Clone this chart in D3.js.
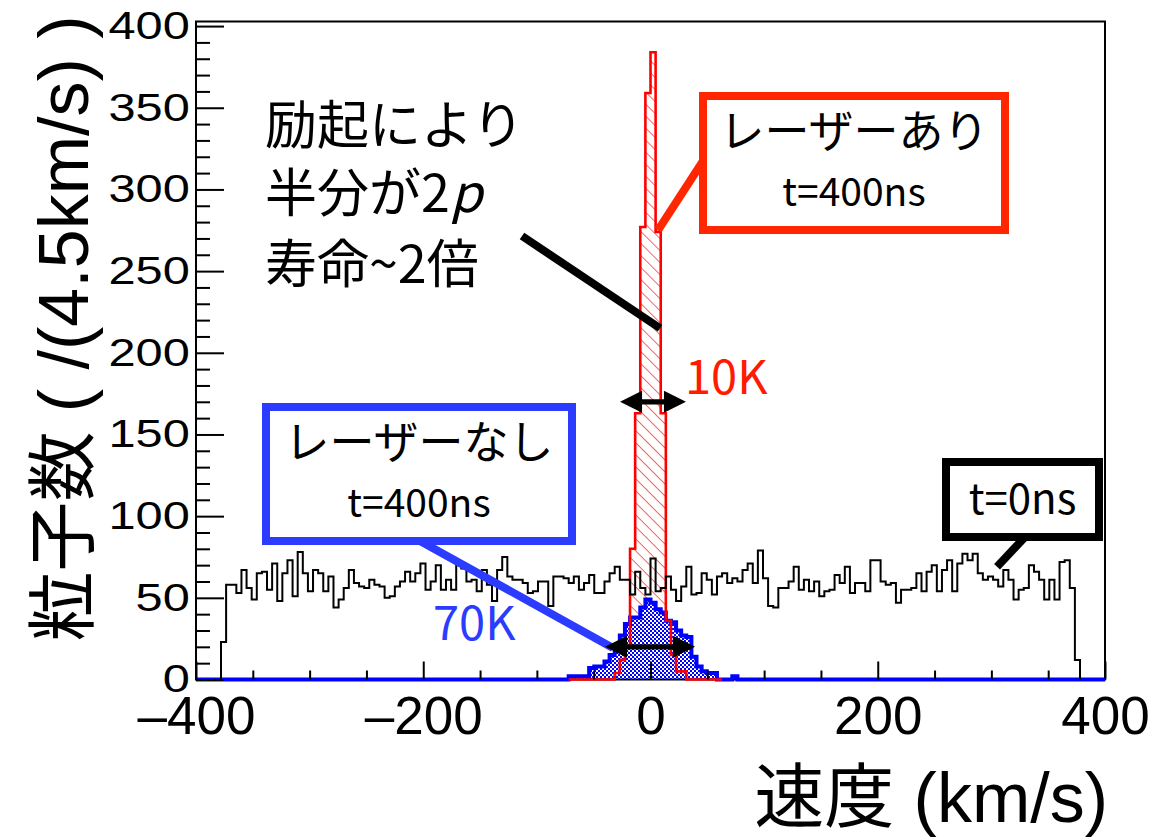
<!DOCTYPE html>
<html>
<head>
<meta charset="utf-8">
<script src="https://cdn.jsdelivr.net/npm/d3@7"></script>
<style>
  body { margin: 0; background: #fff; }
</style>
</head>
<body>
<script>
const width = 1153;
const height = 838;
const margin = { top: 21.5, right: 48, bottom: 158.5, left: 196 };

const binWidth = 4.5; // km/s

// t=0ns (black), first bin edge at -378 km/s
const t0Start = -378;
const t0Counts = [
  23, 58, 58, 53, 67, 56, 49, 65, 66, 55,
  71, 48, 65, 73, 51, 78, 65, 54, 67, 65,
  54, 63, 44, 49, 56, 67, 59, 57, 56, 61,
  58, 57, 50, 51, 57, 60, 66, 60, 65, 71,
  55, 60, 70, 55, 61, 55, 70, 68, 60, 61,
  54, 67, 58, 48, 67, 75, 63, 61, 61, 59,
  53, 54, 60, 60, 45, 63, 63, 62, 59, 63,
  55, 59, 64, 53, 53, 60, 65, 69, 61, 61,
  52, 66, 56, 52, 74, 54, 56, 63, 55, 48,
  57, 69, 52, 53, 65, 61, 52, 63, 65, 59,
  62, 60, 67, 71, 59, 79, 62, 45, 44, 56,
  56, 60, 69, 55, 61, 54, 60, 51, 54, 55,
  64, 59, 69, 53, 59, 59, 54, 73, 73, 60,
  58, 59, 47, 55, 55, 56, 65, 54, 66, 70,
  54, 67, 73, 54, 71, 77, 73, 77, 65, 61,
  63, 61, 57, 67, 61, 49, 55, 56, 70, 66,
  61, 49, 61, 49, 72, 73, 56, 12
];

// レーザーあり t=400ns (red, hatched)
const laserOnStart = -72;
const laserOnCounts = [
  0, 0, 0, 0, 0, 0, 0, 0, 0, 4,
  12, 20, 80, 163, 277, 359, 384, 274, 163, 36,
  15, 5, 5, 0, 0, 0, 0, 0, 0, 0
];

// レーザーなし t=400ns (blue, checkered)
const laserOffStart = -72;
const laserOffCounts = [
  2, 2, 2, 2, 7, 8, 8, 11, 15, 21,
  27, 34, 38, 38, 44, 49, 47, 43, 41, 36,
  35, 30, 27, 26, 14, 8, 5, 4, 4, 0,
  0, 0, 2
];

const xDomain = [-400, 400];
const yDomain = [0, 402.8];
const xTickLabels = [-400, -200, 0, 200, 400];
const yTickLabels = [0, 50, 100, 150, 200, 250, 300, 350, 400];

const x = d3.scaleLinear().domain(xDomain).range([margin.left, width - margin.right]);
const y = d3.scaleLinear().domain(yDomain).range([height - margin.bottom, margin.top]);

const svg = d3.select("body").append("svg")
  .attr("width", width)
  .attr("height", height)
  .style("font-family", "'Liberation Sans', Arial, sans-serif");

const defs = svg.append("defs");

// red hatch (\\\)
defs.append("pattern")
  .attr("id", "hatch")
  .attr("patternUnits", "userSpaceOnUse")
  .attr("width", 8.5).attr("height", 8.5)
  .attr("patternTransform", "rotate(-45)")
  .append("line")
  .attr("x1", 0).attr("y1", 0).attr("x2", 0).attr("y2", 8.5)
  .attr("stroke", "#ff0000").attr("stroke-width", 1.2);

// blue checker
const checker = defs.append("pattern")
  .attr("id", "checker")
  .attr("patternUnits", "userSpaceOnUse")
  .attr("width", 4).attr("height", 4);
checker.append("rect").attr("x", 0).attr("y", 0).attr("width", 2).attr("height", 2).attr("fill", "#0000ff");
checker.append("rect").attr("x", 2).attr("y", 2).attr("width", 2).attr("height", 2).attr("fill", "#0000ff");

function stepPoints(start, counts) {
  const pts = [[start, 0]];
  counts.forEach((c, i) => {
    pts.push([start + i * binWidth, c], [start + (i + 1) * binWidth, c]);
  });
  pts.push([start + counts.length * binWidth, 0]);
  return pts;
}

const line = d3.line().x(d => x(d[0])).y(d => y(d[1]));

const redPts = stepPoints(laserOnStart, laserOnCounts);
const bluePts = stepPoints(laserOffStart, laserOffCounts);
const blackPts = stepPoints(t0Start, t0Counts);

// frame
svg.append("rect")
  .attr("x", x(xDomain[0])).attr("y", y(yDomain[1]))
  .attr("width", x(xDomain[1]) - x(xDomain[0]))
  .attr("height", y(yDomain[0]) - y(yDomain[1]))
  .attr("fill", "#fff")
  .attr("stroke", "#000").attr("stroke-width", 2);

// fills
svg.append("path").attr("d", line(redPts)).attr("fill", "url(#hatch)");
svg.append("path").attr("d", line(bluePts)).attr("fill", "url(#checker)");

// outlines
svg.append("path")
  .attr("d", line([[xDomain[0], 0], ...bluePts, [xDomain[1], 0]]))
  .attr("fill", "none").attr("stroke", "#0000ff").attr("stroke-width", 4);
svg.append("path")
  .attr("d", line(redPts))
  .attr("fill", "none").attr("stroke", "#ff0000").attr("stroke-width", 2.6);
svg.append("path")
  .attr("d", line(blackPts))
  .attr("fill", "none").attr("stroke", "#000").attr("stroke-width", 2);

// x axis (ticks inward)
const xAxisY = y(0);
svg.append("g")
  .attr("transform", `translate(0,${xAxisY})`)
  .call(d3.axisBottom(x).tickValues(d3.range(-350, 400, 50).filter(v => v % 200 !== 0)).tickSize(-9).tickFormat(""))
  .call(g => g.select(".domain").remove())
  .call(g => g.selectAll("line").attr("stroke-width", 2));
svg.append("g")
  .attr("transform", `translate(0,${xAxisY})`)
  .call(d3.axisBottom(x).tickValues(xTickLabels).tickSize(-18).tickPadding(17)
    .tickFormat(d => d < 0 ? "\u2013" + Math.abs(d) : String(d)))
  .call(g => g.select(".domain").remove())
  .call(g => g.selectAll("line").attr("stroke-width", 2))
  .call(g => g.selectAll("text").attr("font-size", 53).attr("font-family", "'Liberation Sans', Arial, sans-serif").attr("fill", "#000"));

// y axis (ticks inward)
svg.append("g")
  .attr("transform", `translate(${x(xDomain[0])},0)`)
  .call(d3.axisLeft(y).tickValues(d3.range(10, 401, 10).filter(v => v % 50 !== 0)).tickSize(-14).tickFormat(""))
  .call(g => g.select(".domain").remove())
  .call(g => g.selectAll("line").attr("stroke-width", 2));
svg.append("g")
  .attr("transform", `translate(${x(xDomain[0])},0)`)
  .call(d3.axisLeft(y).tickValues(yTickLabels).tickSize(-28).tickPadding(5))
  .call(g => g.select(".domain").remove())
  .call(g => g.selectAll("line").attr("stroke-width", 2))
  .call(g => g.selectAll("text")
    .attr("font-size", 39)
    .attr("font-family", "'Liberation Sans', Arial, sans-serif")
    .attr("fill", "#000")
    .attr("transform", "scale(1.25,1)"));

// axis titles
svg.append("text")
  .attr("transform", `translate(88,${margin.top - 6}) rotate(-90)`)
  .attr("text-anchor", "end")
  .attr("font-size", 70)
  .style("font-family", "'Liberation Sans', 'Noto Sans CJK JP', sans-serif")
  .text("粒子数 ( /(4.5km/s) )");

svg.append("text")
  .attr("x", x(xDomain[1]) + 3)
  .attr("y", 822)
  .attr("text-anchor", "end")
  .attr("font-size", 70)
  .style("font-family", "'Liberation Sans', 'Noto Sans CJK JP', sans-serif")
  .text("速度 (km/s)");

// annotations
const jp = "'Noto Sans CJK JP', sans-serif";
const note = svg.append("g").style("font-family", jp);

const noteLines = ["励起により", "半分が2", "寿命~2倍"];
const noteY = [144, 212, 283];
noteLines.forEach((t, i) => {
  const tx = note.append("text").attr("x", 265).attr("y", noteY[i]).attr("font-size", 52).text(t);
  if (i === 1) tx.append("tspan").attr("font-style", "italic").text("p");
});
note.append("line")
  .attr("x1", 522).attr("y1", 236).attr("x2", x(8.4)).attr("y2", y(215))
  .attr("stroke", "#000").attr("stroke-width", 8);

const boxes = [
  { x: 703, y: 96, w: 302, h: 134, color: "#ff2600", line1: "レーザーあり", line2: "t=400ns",
    tip: [6.6, 275], from: [703, 161] },
  { x: 266, y: 407, w: 306, h: 134, color: "#2b3cff", line1: "レーザーなし", line2: "t=400ns",
    tip: [-33, 19.3], from: [420, 541] },
  { x: 946, y: 462, w: 153, h: 75, color: "#000", line1: null, line2: "t=0ns",
    tip: [305, 69], from: [1025, 537] }
];
boxes.forEach(b => {
  note.append("line")
    .attr("x1", b.from[0]).attr("y1", b.from[1])
    .attr("x2", x(b.tip[0])).attr("y2", y(b.tip[1]))
    .attr("stroke", b.color).attr("stroke-width", 8);
  note.append("rect")
    .attr("x", b.x).attr("y", b.y).attr("width", b.w).attr("height", b.h)
    .attr("fill", "#fff").attr("stroke", b.color).attr("stroke-width", 8);
  if (b.line1) {
    note.append("text").attr("x", b.x + b.w / 2).attr("y", b.y + 52)
      .attr("text-anchor", "middle").attr("font-size", 45).text(b.line1);
    note.append("text").attr("x", b.x + b.w / 2).attr("y", b.y + 110)
      .attr("text-anchor", "middle").attr("font-size", 39).text(b.line2);
  } else {
    note.append("text").attr("x", b.x + b.w / 2).attr("y", b.y + 52)
      .attr("text-anchor", "middle").attr("font-size", 42).text(b.line2);
  }
});

// width arrows
function doubleArrow(x0, x1, yv) {
  const xa = x(x0), xb = x(x1), yy = y(yv);
  const hl = 22, hh = 11, sh = 2.6;
  note.append("path")
    .attr("d", `M${xa},${yy} L${xa + hl},${yy - hh} L${xa + hl},${yy - sh} L${xb - hl},${yy - sh} L${xb - hl},${yy - hh} L${xb},${yy} L${xb - hl},${yy + hh} L${xb - hl},${yy + sh} L${xa + hl},${yy + sh} L${xa + hl},${yy + hh} Z`)
    .attr("fill", "#000");
}
doubleArrow(-26.8, 31.2, 170);
doubleArrow(-40, 39.2, 20);

note.append("text").attr("x", 685).attr("y", 394).attr("font-size", 47)
  .attr("fill", "#ff1a00").text("10K");
note.append("text").attr("x", 433).attr("y", 640).attr("font-size", 47)
  .attr("fill", "#2b3cff").text("70K");
</script>
</body>
</html>
